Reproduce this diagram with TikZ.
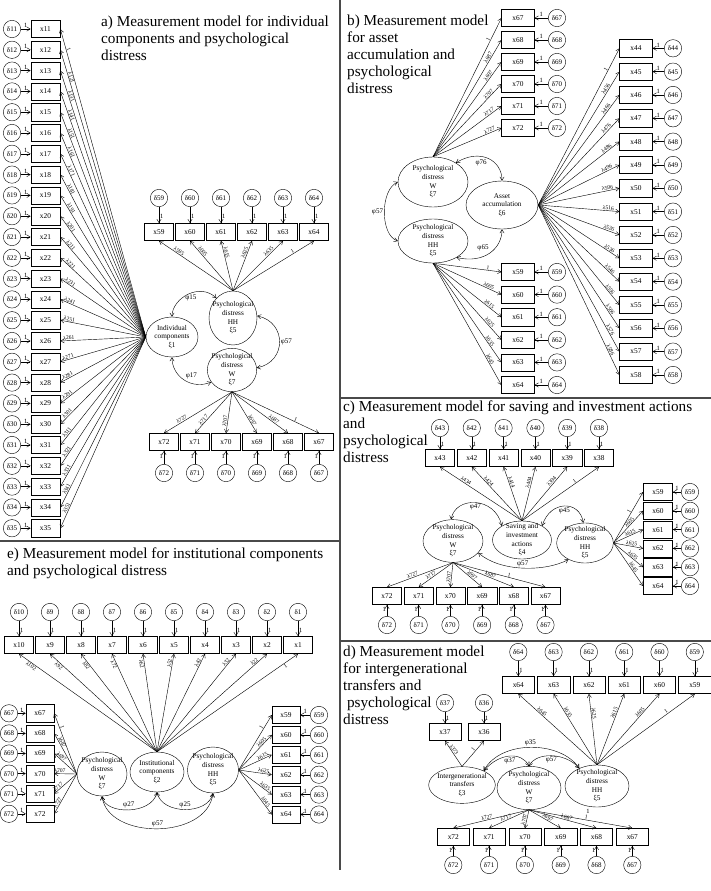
\documentclass[tikz,border=0pt]{standalone}
\usepackage{fontspec}
\setmainfont{Liberation Serif}
\usetikzlibrary{shapes.geometric,arrows.meta}
\definecolor{SEMRule}{HTML}{4A4A4A}

\begin{document}
\begin{tikzpicture}[x=0.03cm,y=-0.03cm,line width=0.35pt,
  ind/.style={draw,minimum width=0.88cm,minimum height=0.52cm,inner sep=0pt,font=\fontsize{6.3}{7}\selectfont},
  indw/.style={ind,minimum width=0.98cm},
  err/.style={draw,circle,minimum size=0.52cm,inner sep=0pt,font=\fontsize{6}{7}\selectfont},
  ltx/.style={align=center,inner sep=0pt,font=\fontsize{6.2}{7.4}\selectfont},
  lat/.style n args={3}{draw,ellipse,inner sep=0pt,minimum width=#1,minimum height=#2,label={[ltx]center:{#3}}},
  arr/.style={-{Straight Barb[length=3pt,width=3.6pt]}},
  cov/.style={{Straight Barb[length=3pt,width=3.6pt]}-{Straight Barb[length=3pt,width=3.6pt]}},
  lam/.style={font=\fontsize{4.8}{5}\selectfont,inner sep=0.5pt,sloped,above},
  one/.style={font=\fontsize{5.5}{6}\selectfont,inner sep=0.8pt},
  phi/.style={font=\fontsize{6}{6}\selectfont,inner sep=1pt},
  ttl/.style={anchor=north west,align=left,inner sep=0pt,font=\fontsize{13}{14.5}\selectfont}]
\path[use as bounding box] (0,0) rectangle (711,891);
\draw[SEMRule,line width=1.1pt] (340,0) -- (340,870);
\draw[SEMRule,line width=1.1pt] (0,541) -- (340,541);
\draw[SEMRule,line width=1.1pt] (340,398) -- (711,398);
\draw[SEMRule,line width=1.1pt] (340,641) -- (711,641);

% a) individual components
\node[ttl] (aT) at (101,16) {a) Measurement model for individual\\components and psychological\\distress};
\node[lat={1.56cm}{1.2cm}{Individual\\components\\ξ1}] (aIC) at (172,337) {};
\node[lat={1.44cm}{1.62cm}{Psychological\\distress\\HH\\ξ5}] (aHH) at (233,318) {};
\node[lat={1.48cm}{1.3cm}{Psychological\\distress\\W\\ξ7}] (aW) at (232,370) {};
\foreach \i in {11,...,35}{
  \node[ind] (a\i) at (45.5,{29+20.8*(\i-11)}) {x\i};
  \node[err] (ad\i) at (12,{29+20.8*(\i-11)}) {δ\i};
  \draw[arr] (ad\i) -- node[one,above]{1} (a\i);
}
\draw[arr] (aIC.west) -- node[lam,pos=0.93]{1} (a11.east);
\foreach \i in {12,...,35}
  \draw[arr] (aIC.west) -- node[lam,pos=0.9]{λ\i1} (a\i.east);
\foreach \n/\l [count=\k from 0] in {59/λ595,60/λ605,61/λ615,62/λ625,63/λ635,64/1}{
  \node[ind] (a\n) at ({159+31*\k},232) {x\n};
  \node[err] (ad\n) at ({159+31*\k},198) {δ\n};
  \draw[arr] (ad\n) -- node[one,right,pos=0.6]{1} (a\n);
  \draw[arr] (aHH.north) -- node[lam,pos=0.75]{\l} (a\n.south);
}
\foreach \n/\l [count=\k from 0] in {72/λ727,71/λ717,70/λ707,69/λ697,68/λ687,67/1}{
  \node[ind] (a\n) at ({164+31*\k},442) {x\n};
  \node[err] (ad\n) at ({164+31*\k},473) {δ\n};
  \draw[arr] (ad\n) -- node[one,left,pos=0.6]{1} (a\n);
  \draw[arr] (aW.south) -- node[lam,pos=0.72]{\l} (a\n.north);
}
\draw[cov] (aHH.130) .. controls (200,282) and (172,298) .. node[phi,below,pos=0.45]{φ15} (aIC.north);
\draw[cov] (aIC.south) .. controls (172,377) and (192,390) .. node[phi,above right]{φ17} (aW.210);
\draw[cov] (aHH.5) .. controls (287,322) and (287,362) .. node[phi,right]{φ57} (aW.5);

% b) asset accumulation
\node[ttl] (bT) at (347,15) {b) Measurement model\\for asset\\accumulation and\\psychological\\distress};
\node[lat={2.1cm}{1.5cm}{Psychological\\distress\\W\\ξ7}] (bW) at (433,182) {};
\node[lat={2.1cm}{1.32cm}{Psychological\\distress\\HH\\ξ5}] (bHH) at (433,241) {};
\node[lat={2.16cm}{1.44cm}{Asset\\accumulation\\ξ6}] (bAA) at (502,205) {};
\foreach \n/\l [count=\k from 0] in {67/1,68/λ687,69/λ697,70/λ707,71/λ717,72/λ727}{
  \node[indw] (b\n) at (518,{18+22*\k}) {x\n};
  \node[err] (bd\n) at (557,{18+22*\k}) {δ\n};
  \draw[arr] (bd\n) -- node[one,above]{1} (b\n);
  \draw[arr] (bW.north) -- node[lam,pos=0.84]{\l} (b\n.west);
}
\foreach \n/\l [count=\k from 0] in {44/1,45/λ456,46/λ466,47/λ476,48/λ486,49/λ496,50/λ506,51/λ516,52/λ526,53/λ536,54/λ546,55/λ556,56/λ566,57/λ576,58/λ586}{
  \node[indw] (b\n) at (636,{48.3+23.33*\k}) {x\n};
  \node[err] (bd\n) at (673,{48.3+23.33*\k}) {δ\n};
  \draw[arr] (bd\n) -- node[one,above]{1} (b\n);
  \draw[arr] (bAA.east) -- node[lam,pos=0.86]{\l} (b\n.west);
}
\foreach \n/\l [count=\k from 0] in {59/1,60/λ605,61/λ615,62/λ625,63/λ635,64/λ645}{
  \node[indw] (b\n) at (518,{272+22.6*\k}) {x\n};
  \node[err] (bd\n) at (557,{272+22.6*\k}) {δ\n};
  \draw[arr] (bd\n) -- node[one,above]{1} (b\n);
  \draw[arr] (bHH.south) -- node[lam,pos=0.8]{\l} (b\n.west);
}
\draw[cov] (bW.40) .. controls (480,148) and (502,160) .. node[phi,below left]{φ76} (bAA.north);
\draw[cov] (bW.west) .. controls (380,190) and (380,235) .. node[phi,left]{φ57} (bHH.west);
\draw[cov] (bHH.-35) .. controls (485,264) and (502,248) .. node[phi,above left]{φ65} (bAA.south);

% c) saving and investment actions
\node[ttl] (cT) at (343,401) {c) Measurement model for saving and investment actions\\and\\psychological\\distress};
\node[lat={1.77cm}{1.14cm}{Saving and\\investment\\actions\\ξ4}] (cS) at (522,540) {};
\node[lat={1.8cm}{1.28cm}{Psychological\\distress\\W\\ξ7}] (cW) at (453,541) {};
\node[lat={1.7cm}{1.2cm}{Psychological\\distress\\HH\\ξ5}] (cHH) at (585,543) {};
\foreach \n/\l [count=\k from 0] in {43/λ434,42/λ424,41/λ414,40/λ404,39/λ394,38/1}{
  \node[ind] (c\n) at ({440+31.8*\k},458) {x\n};
  \node[err] (cd\n) at ({440+31.8*\k},428) {δ\n};
  \draw[arr] (cd\n) -- node[one,right,pos=0.6]{1} (c\n);
  \draw[arr] (cS.north) -- node[lam,pos=0.7]{\l} (c\n.south);
}
\foreach \n/\l [count=\k from 0] in {72/λ727,71/λ717,70/λ707,69/λ697,68/λ687,67/1}{
  \node[ind] (c\n) at ({387+31.7*\k},596) {x\n};
  \node[err] (cd\n) at ({387+31.7*\k},625) {δ\n};
  \draw[arr] (cd\n) -- node[one,left,pos=0.6]{1} (c\n);
  \draw[arr] (cW.south) -- node[lam,pos=0.6]{\l} (c\n.north);
}
\foreach \n/\l [count=\k from 0] in {59/1,60/λ605,61/λ615,62/λ625,63/λ635,64/λ645}{
  \node[ind] (c\n) at (658,{492+18.8*\k}) {x\n};
  \node[err] (cd\n) at (690,{492+18.8*\k}) {δ\n};
  \draw[arr] (cd\n) -- node[one,above]{1} (c\n);
  \draw[arr] (cHH.east) -- node[lam,pos=0.6]{\l} (c\n.west);
}
\draw[cov] (cW.95) .. controls (455,496) and (495,496) .. node[phi,below]{φ47} (cS.145);
\draw[cov] (cS.35) .. controls (550,500) and (580,500) .. node[phi,below]{φ45} (cHH.95);
\draw[cov] (cW.-25) .. controls (500,572) and (545,572) .. node[phi,above]{φ57} (cHH.-135);

% d) intergenerational transfers
\node[ttl] (dT) at (343,646) {d) Measurement model\\for intergenerational\\transfers and\\\hspace*{0.25em}psychological\\distress};
\node[lat={1.92cm}{1.26cm}{Psychological\\distress\\HH\\ξ5}] (dHH) at (597,786) {};
\node[lat={1.92cm}{1.3cm}{Psychological\\distress\\W\\ξ7}] (dW) at (529,788) {};
\node[lat={2cm}{1.1cm}{Intergenerational\\transfers\\ξ3}] (dIT) at (462,785) {};
\node[one] (dOne) at (588,811) {1};
\foreach \n/\l [count=\k from 0] in {64/λ645,63/λ635,62/λ625,61/λ615,60/λ605,59/1}{
  \node[ind,minimum width=0.97cm] (d\n) at ({518.3+35.3*\k},685) {x\n};
  \node[err] (dd\n) at ({518.3+35.3*\k},652) {δ\n};
  \draw[arr] (dd\n) -- node[one,right,pos=0.6]{1} (d\n);
  \draw[arr] (dHH.north) -- node[lam,pos=0.72]{\l} (d\n.south);
}
\foreach \n/\l/\xx in {37/λ373/445,36/1/484}{
  \node[ind,minimum width=0.97cm] (d\n) at (\xx,732) {x\n};
  \node[err] (dd\n) at (\xx,703) {δ\n};
  \draw[arr] (dd\n) -- node[one,right,pos=0.6]{1} (d\n);
  \draw[arr] (dIT.north) -- node[lam,pos=0.6]{\l} (d\n.south);
}
\foreach \n/\l [count=\k from 0] in {72/λ727,71/λ717,70/λ707,69/λ697,68/λ687,67/1}{
  \node[ind,minimum width=0.97cm] (d\n) at ({453.3+35.8*\k},837) {x\n};
  \node[err] (dd\n) at ({453.3+35.8*\k},865) {δ\n};
  \draw[arr] (dd\n) -- node[one,left,pos=0.6]{1} (d\n);
  \draw[arr] (dW.south) -- node[lam,pos=0.55]{\l} (d\n.north);
}
\draw[cov] (dIT.33) .. controls (500,740) and (560,740) .. node[phi,above]{φ35} (dHH.135);
\draw[cov] (dIT.33) .. controls (500,752) and (522,752) .. node[phi,below]{φ37} (dW.north);
\draw[cov] (dW.north) .. controls (536,752) and (565,752) .. node[phi,below]{φ57} (dHH.135);

% e) institutional components
\node[ttl] (eT) at (7,548) {e) Measurement model for institutional components\\and psychological distress};
\node[lat={1.62cm}{1.2cm}{Institutional\\components\\ξ2}] (eIC) at (157,772) {};
\node[lat={1.5cm}{1.32cm}{Psychological\\distress\\W\\ξ7}] (eW) at (102,774) {};
\node[lat={1.53cm}{1.38cm}{Psychological\\distress\\HH\\ξ5}] (eHH) at (213,770) {};
\foreach \n/\l/\s [count=\k from 0] in {10/λ102/below,9/λ92/below,8/λ82/below,7/λ72/below,6/λ62/below,5/λ52/above,4/λ42/above,3/λ32/above,2/λ22/above,1/1/below}{
  \node[ind] (e\n) at ({19+31*\k},645) {x\n};
  \node[err] (ed\n) at ({19+31*\k},612) {δ\n};
  \draw[arr] (ed\n) -- node[one,right,pos=0.6]{1} (e\n);
  \draw[arr] (eIC.north) -- node[lam,\s,pos=0.9]{\l} (e\n.south);
}
\foreach \n/\l [count=\k from 0] in {67/1,68/λ687,69/λ697,70/λ707,71/λ717,72/λ727}{
  \node[ind,minimum width=0.84cm] (e\n) at (40,{713.3+20.1*\k}) {x\n};
  \node[err] (ed\n) at (9,{713.3+20.1*\k}) {δ\n};
  \draw[arr] (ed\n) -- node[one,above]{1} (e\n);
  \draw[arr] (eW.west) -- node[lam,pos=0.75]{\l} (e\n.east);
}
\foreach \n/\l [count=\k from 0] in {59/1,60/λ605,61/λ615,62/λ625,63/λ635,64/λ645}{
  \node[ind,minimum width=0.84cm] (e\n) at (286,{715+19.9*\k}) {x\n};
  \node[err] (ed\n) at (319,{715+19.9*\k}) {δ\n};
  \draw[arr] (ed\n) -- node[one,above]{1} (e\n);
  \draw[arr] (eHH.east) -- node[lam,pos=0.75]{\l} (e\n.west);
}
\draw[cov] (eW.south) .. controls (105,815) and (152,815) .. node[phi,above]{φ27} (eIC.south);
\draw[cov] (eIC.south) .. controls (162,815) and (208,815) .. node[phi,above]{φ25} (eHH.south);
\draw[cov] (eW.south) .. controls (108,840) and (207,840) .. node[phi,above]{φ57} (eHH.south);
\end{tikzpicture}
\end{document}
